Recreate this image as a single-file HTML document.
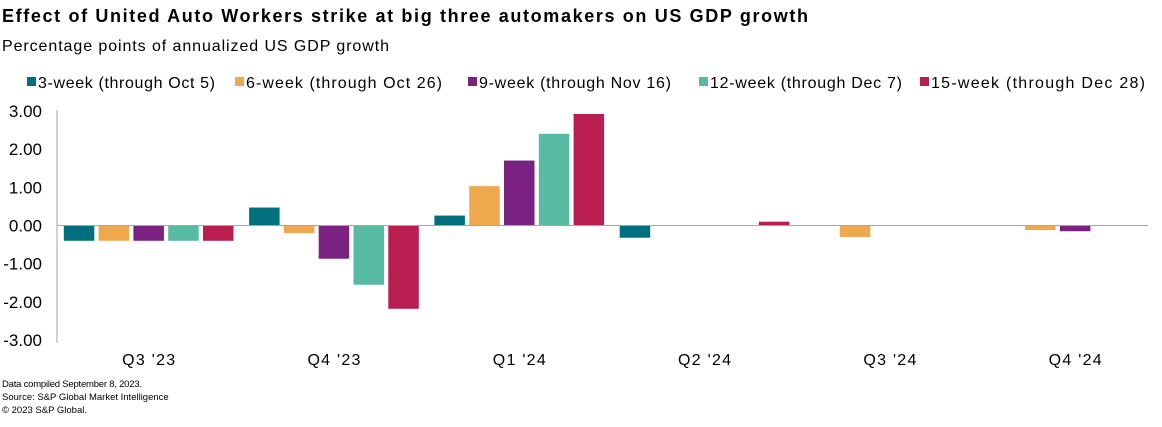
<!DOCTYPE html>
<html><head><meta charset="utf-8"><style>
body{margin:0;background:#fff;font-family:"Liberation Sans",Arial,sans-serif;}
svg text{font-family:"Liberation Sans",Arial,sans-serif;}
</style></head><body>
<svg id="c" width="1162" height="422">
<text x="2" y="22" font-size="18" font-weight="bold" fill="#000" textLength="806" lengthAdjust="spacing">Effect of United Auto Workers strike at big three automakers on US GDP growth</text>
<text x="2" y="51" font-size="16" fill="#000" textLength="387" lengthAdjust="spacing">Percentage points of annualized US GDP growth</text>
<g id="legend"></g>
<g id="yaxis"></g>
<g id="bars"></g>
<g id="xaxis"></g>
<text x="2" y="387" font-size="9.5" fill="#000" textLength="140" lengthAdjust="spacing">Data compiled September 8, 2023.</text>
<text x="2" y="400" font-size="9.5" fill="#000">Source: S&amp;P Global Market Intelligence</text>
<text x="2" y="413" font-size="9.5" fill="#000">© 2023 S&amp;P Global.</text>
</svg>
<script>
const categories=["Q3 '23","Q4 '23","Q1 '24","Q2 '24","Q3 '24","Q4 '24"];
const seriesNames=["3-week (through Oct 5)","6-week (through Oct 26)","9-week (through Nov 16)","12-week (through Dec 7)","15-week (through Dec 28)"];
const s3=[-0.4,0.47,0.26,-0.32,0,0];
const s6=[-0.4,-0.2,1.03,0,-0.3,-0.12];
const s9=[-0.4,-0.87,1.7,0,0,-0.15];
const s12=[-0.4,-1.55,2.4,0,0,0];
const s15=[-0.4,-2.18,2.92,0.1,0,0];
const yTicks=[3,2,1,0,-1,-2,-3];
const colors=["#00707f","#f0a84e","#7a2181","#56bba2","#b81e4f"];
const NS="http://www.w3.org/2000/svg";
function mk(t,a,p){const e=document.createElementNS(NS,t);for(const k in a)e.setAttribute(k,a[k]);p.appendChild(e);return e;}
const y0=225.5,unit=38.2,left=57,band=185.3,bw=30.5,step=34.8;
function y(v){return y0-v*unit;}
function xc(i){return left+band*(i+0.5)-1;}
const series=[s3,s6,s9,s12,s15];
const lg=document.getElementById('legend');
const lx=[27,235,468,699,920];
const lw=[177,196,192,192,214];
seriesNames.forEach((n,i)=>{
 const g=mk('g',{},lg);
 
 
 mk('rect',{x:lx[i],y:77,width:9,height:9,fill:colors[i]},g);
 const t=mk('text',{x:lx[i]+11,y:88,'font-size':16,fill:'#000',textLength:lw[i],lengthAdjust:'spacing'},g);t.textContent=n;
});
const ya=document.getElementById('yaxis');
const al=mk('line',{x1:left,y1:110,x2:left,y2:343,stroke:'#a6a6a6','stroke-width':1},ya);


yTicks.forEach(v=>{
 const t=mk('text',{x:42,y:y(v)+6,'font-size':17,'text-anchor':'end',fill:'#000'},ya);
 
 
 t.textContent=v.toFixed(2);
});
const bg=document.getElementById('bars');
series.forEach((s,si)=>{
 s.forEach((v,ci)=>{
  if(v===0)return;
  const x=xc(ci)+(si-2)*step-bw/2;
  const r=mk('rect',{x:x,y:Math.min(y(v),y0),width:bw,height:Math.abs(y(v)-y0),fill:colors[si]},bg);
  
  
 });
});
const xa=document.getElementById('xaxis');
const zl=mk('line',{x1:left,y1:y0,x2:1148,y2:y0,stroke:'#a6a6a6','stroke-width':1},xa);


categories.forEach((c,i)=>{
 const t=mk('text',{x:xc(i),y:365,'font-size':16,'text-anchor':'middle',fill:'#000',textLength:53,lengthAdjust:'spacing'},xa);
 
 
 t.textContent=c;
});
</script>
</body></html>
